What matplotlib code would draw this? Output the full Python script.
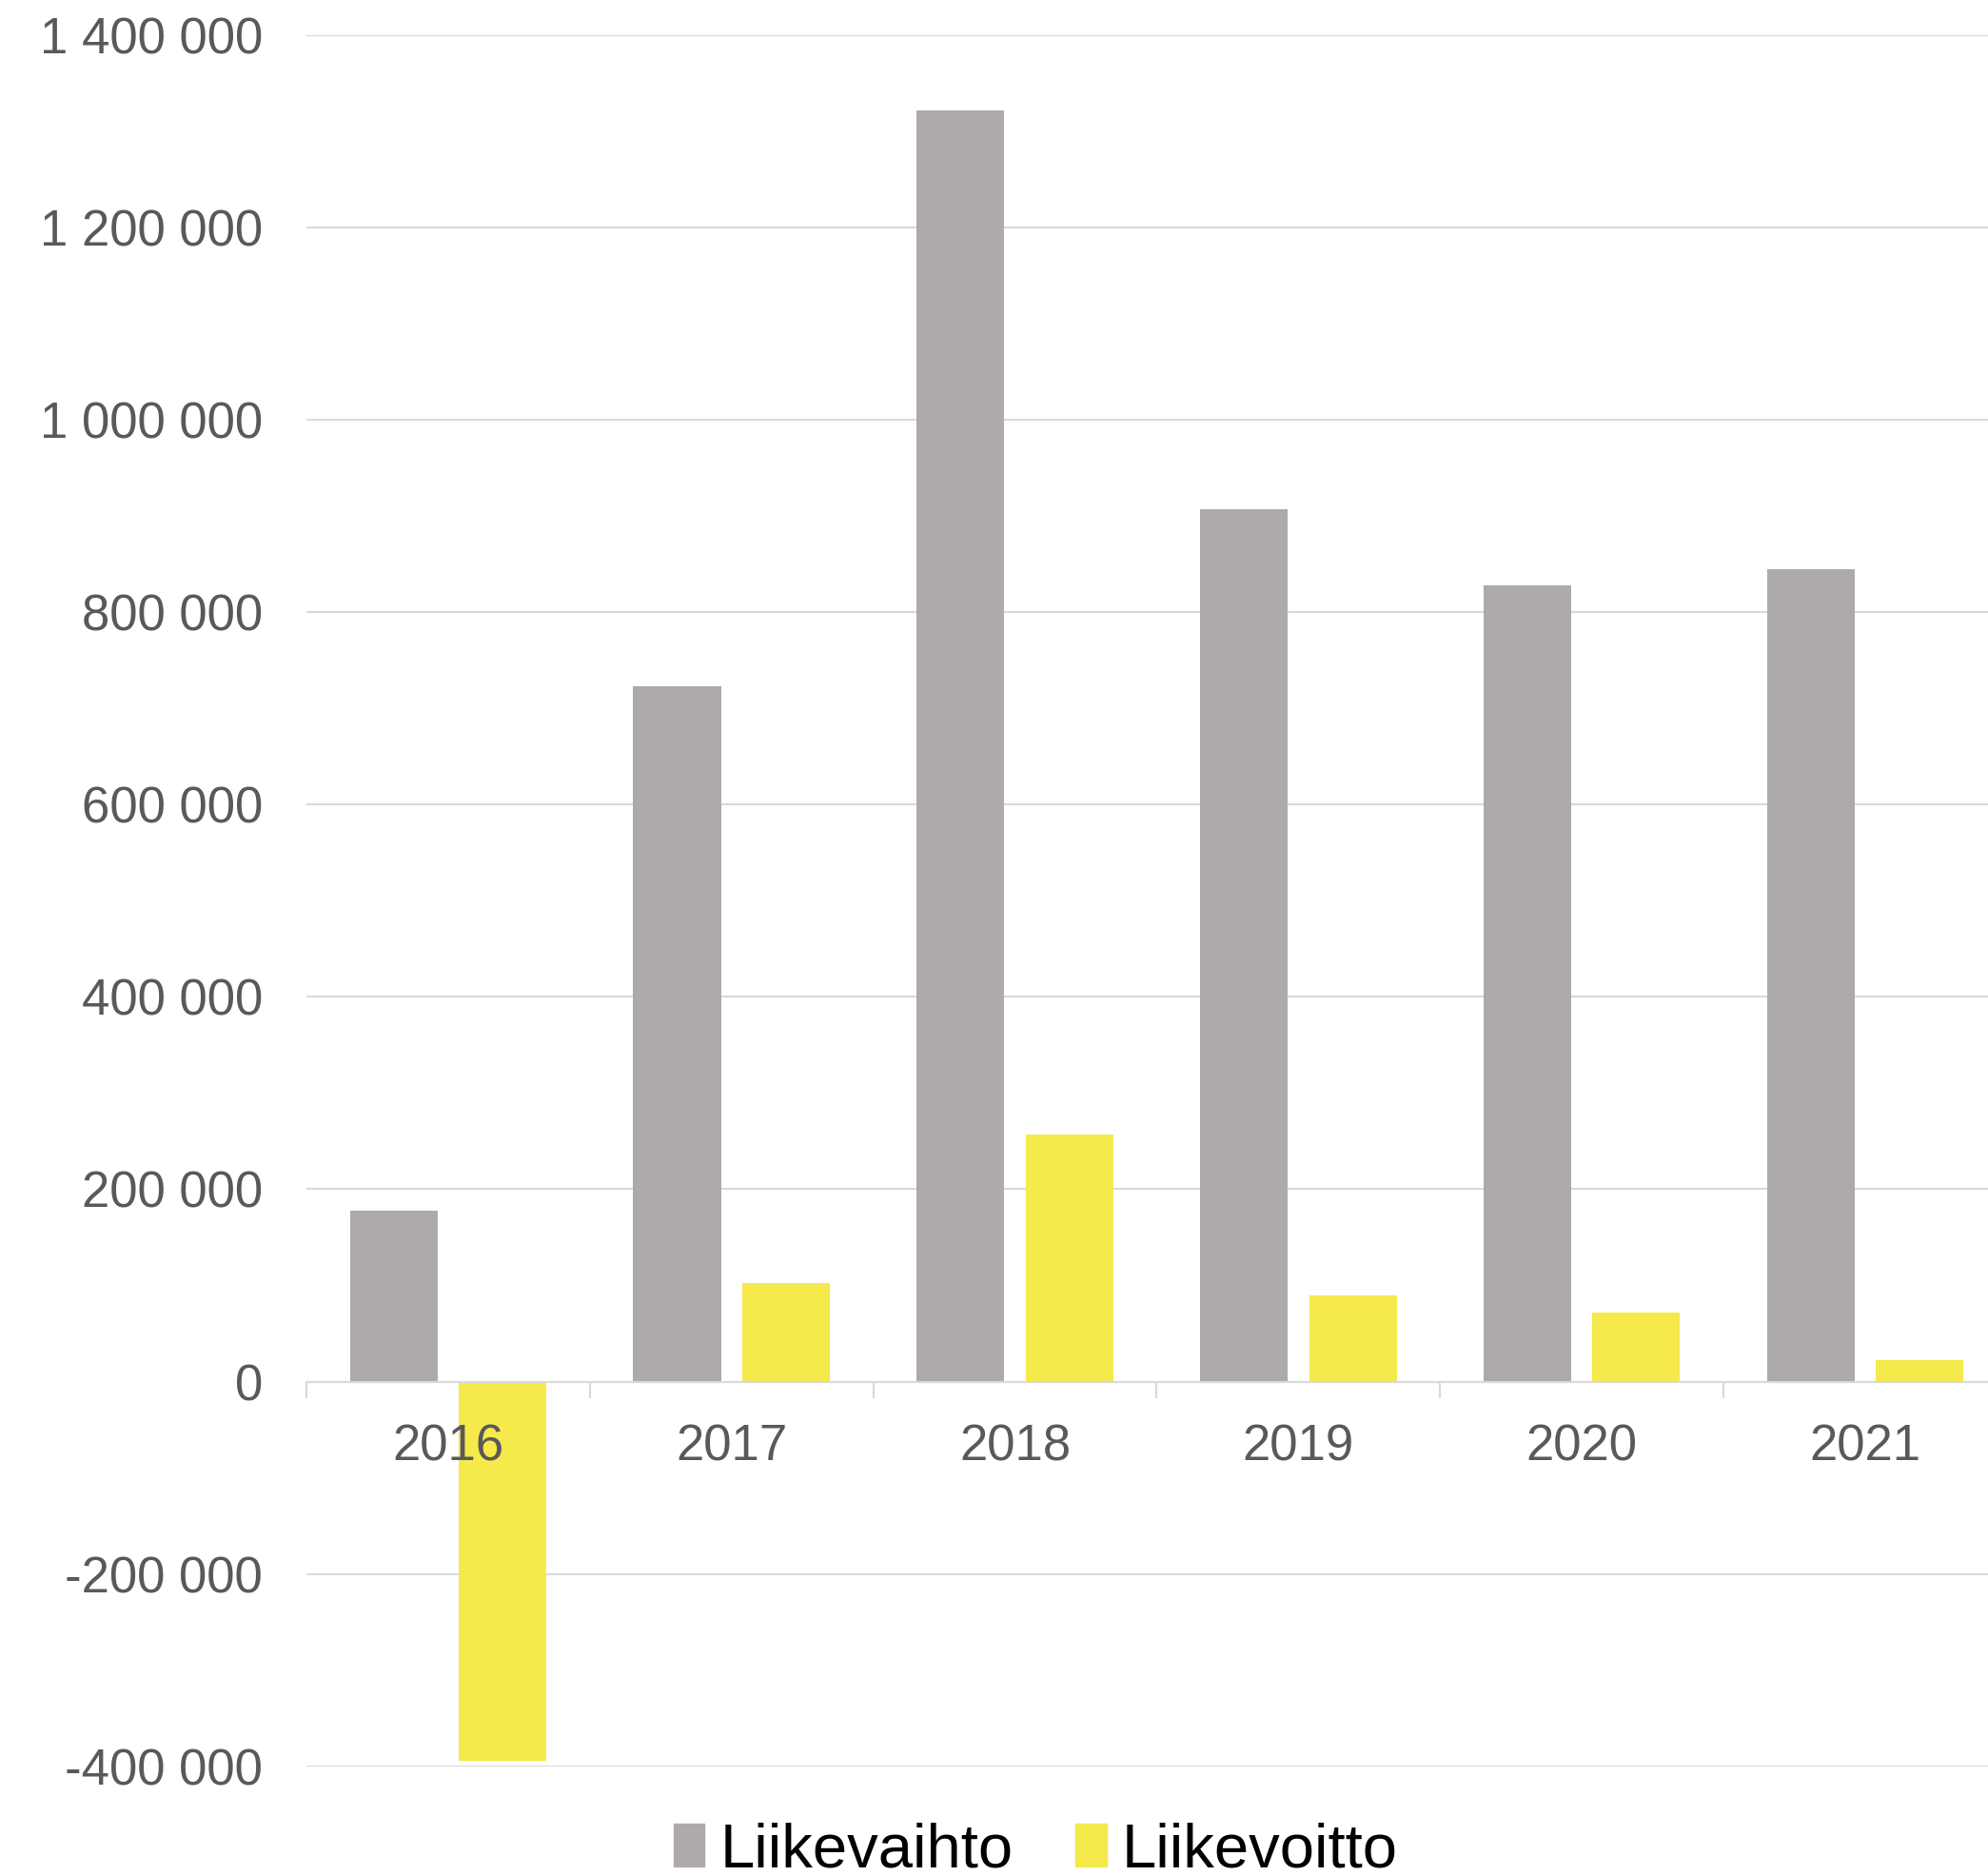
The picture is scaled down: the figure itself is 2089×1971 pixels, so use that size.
import matplotlib.pyplot as plt
import matplotlib.ticker as mticker
from matplotlib.patches import Patch
import numpy as np

plt.rcParams['font.family'] = ['Liberation Sans', 'DejaVu Sans']

# Tiedot
vuodet = ['2016', '2017', '2018', '2019', '2020', '2021']
liikevaihto = [178000, 723000, 1322000, 907000, 828000, 845000]
liikevoitto = [-394000, 102000, 257000, 90000, 72000, 22000]

harmaa = '#AEAAA9'
keltainen = '#F5E94C'
ruudukko = '#D9D9D9'
tekstin_vari = '#595959'

fig = plt.figure(figsize=(20.89, 19.71), dpi=100)
ax = fig.add_axes([0.1541, 0.0585, 1.0096 - 0.1541, 0.9812 - 0.0585])

x = np.arange(len(vuodet))
leveys = 0.309
siirto = 0.192

ax.bar(x - siirto, liikevaihto, leveys, color=harmaa, zorder=2)
ax.bar(x + siirto, liikevoitto, leveys, color=keltainen, zorder=2)

ax.set_xlim(-0.5, len(vuodet) - 0.5)
ax.set_ylim(-400000, 1400000)

# Vaakaviivat palkkien taakse, akselin tekstit palkkien päälle
ytikit = np.arange(-400000, 1400001, 200000)
ax.set_yticks(ytikit)
for y in ytikit:
    ax.axhline(y, color=ruudukko, linewidth=1.5, zorder=0)
ax.yaxis.set_major_formatter(mticker.FuncFormatter(
    lambda v, p: f'{int(v):,}'.replace(',', ' ')))
ax.xaxis.set_zorder(3)

for s in ['top', 'right', 'left']:
    ax.spines[s].set_visible(False)
ax.spines['bottom'].set_position(('data', 0))
ax.spines['bottom'].set_color(ruudukko)
ax.spines['bottom'].set_linewidth(1.5)
ax.spines['bottom'].set_zorder(3)

ax.set_xticks(x)
ax.set_xticklabels(vuodet)
ax.set_xticks(np.arange(-0.5, len(vuodet), 1.0), minor=True)
ax.tick_params(axis='x', which='major', length=0, pad=32,
               labelsize=38, labelcolor=tekstin_vari)
ax.tick_params(axis='x', which='minor', length=12, width=1.5, color=ruudukko)
ax.tick_params(axis='y', length=0, pad=33, labelsize=38, labelcolor=tekstin_vari)

kahvat = [Patch(color=harmaa, label='Liikevaihto'),
          Patch(color=keltainen, label='Liikevoitto')]
fig.legend(handles=kahvat, loc='center', bbox_to_anchor=(0.521, 0.0135),
           ncol=2, frameon=False, fontsize=47, handlelength=0.5,
           handleheight=0.7, handletextpad=0.25, columnspacing=1.0,
           borderpad=0, borderaxespad=0)

plt.savefig('out.png', dpi=100)
